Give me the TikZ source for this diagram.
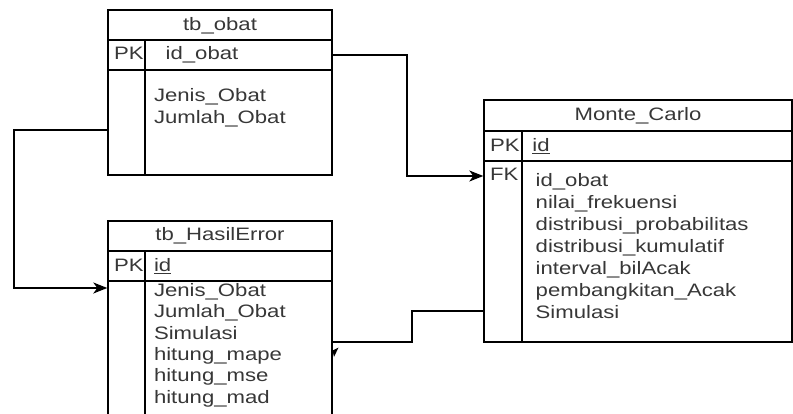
\documentclass[tikz,border=0pt]{standalone}
\usepackage{fontspec}
\setmainfont{Liberation Sans}[FakeStretch=1.23]
\usetikzlibrary{arrows.meta}
\definecolor{txt}{RGB}{55,55,55}
\begin{document}
\begin{tikzpicture}[x=1pt,y=-1pt,line width=1.4pt,
  tbl/.style={draw=black,line width=1.4pt,inner sep=0pt},
  lbl/.style={anchor=base west,inner sep=0pt,text=txt,font=\fontsize{18}{21}\selectfont},
  ttl/.style={anchor=base,inner sep=0pt,text=txt,font=\fontsize{18}{21}\selectfont},
  conn/.style={draw=black,line width=1.4pt},
  arr/.style={-{Stealth[length=14pt,width=11pt,inset=4pt]}}]
\useasboundingbox (0,0) rectangle (793,414);
\clip (0,0) rectangle (793,414);
% tables
\node[tbl,minimum width=224pt,minimum height=165pt] (obat) at (220,92.5) {};
\node[tbl,minimum width=224pt,minimum height=209pt] (hasil) at (220,325.5) {};
\node[tbl,minimum width=308pt,minimum height=242pt] (monte) at (638,221) {};
% inner lines
\draw (108,40) -- (332,40) (108,70) -- (332,70) (145,40) -- (145,175);
\draw (108,251) -- (332,251) (108,281) -- (332,281) (145,251) -- (145,430);
\draw (484,131) -- (792,131) (484,161) -- (792,161) (522,131) -- (522,342);
% tb_obat texts
\node[ttl] (t1) at (220,30.7) {tb\_obat};
\node[lbl] (t1pk) at (113.3,60) {PK};
\node[lbl] (t1id) at (165,60) {id\_obat};
\node[lbl] (t1a) at (153.3,101.7) {Jenis\_Obat};
\node[lbl] (t1b) at (153.3,124) {Jumlah\_Obat};
% tb_HasilError texts
\node[ttl] (t2) at (220,240.7) {tb\_HasilError};
\node[lbl] (t2pk) at (113.3,271.7) {PK};
\node[lbl] (t2id) at (153.3,271.7) {\underline{id}};
\node[lbl] (t2a) at (153.3,296.7) {Jenis\_Obat};
\node[lbl] (t2b) at (153.3,318.0) {Jumlah\_Obat};
\node[lbl] (t2c) at (153.3,339.3) {Simulasi};
\node[lbl] (t2d) at (153.3,360.6) {hitung\_mape};
\node[lbl] (t2e) at (153.3,381.9) {hitung\_mse};
\node[lbl] (t2f) at (153.3,403.2) {hitung\_mad};
% Monte_Carlo texts
\node[ttl] (t3) at (638,120.7) {Monte\_Carlo};
\node[lbl] (t3pk) at (489.3,151.7) {PK};
\node[lbl] (t3id) at (531.7,151.7) {\underline{id}};
\node[lbl] (t3fk) at (489.3,180.7) {FK};
\node[lbl] (t3a) at (535,186.7) {id\_obat};
\node[lbl] (t3b) at (535,208.6) {nilai\_frekuensi};
\node[lbl] (t3c) at (535,230.5) {distribusi\_probabilitas};
\node[lbl] (t3d) at (535,252.4) {distribusi\_kumulatif};
\node[lbl] (t3e) at (535,274.3) {interval\_bilAcak};
\node[lbl] (t3f) at (535,296.2) {pembangkitan\_Acak};
\node[lbl] (t3g) at (535,318.1) {Simulasi};
% connectors
\draw[conn,arr] (obat.west |- 0,130) -- (14,130) -- (14,288) -- (hasil.west |- 0,288);
\draw[conn,arr] (obat.east |- 0,55) -- (407,55) -- (407,176) -- (monte.west |- 0,176);
\draw[conn] (monte.west |- 0,311) -- (412,311) -- (412,342) -- (hasil.east |- 0,342);
\fill[black] (332.5,350.5) -- (338.5,347.5) -- (334,357) -- cycle;
\end{tikzpicture}
\end{document}
